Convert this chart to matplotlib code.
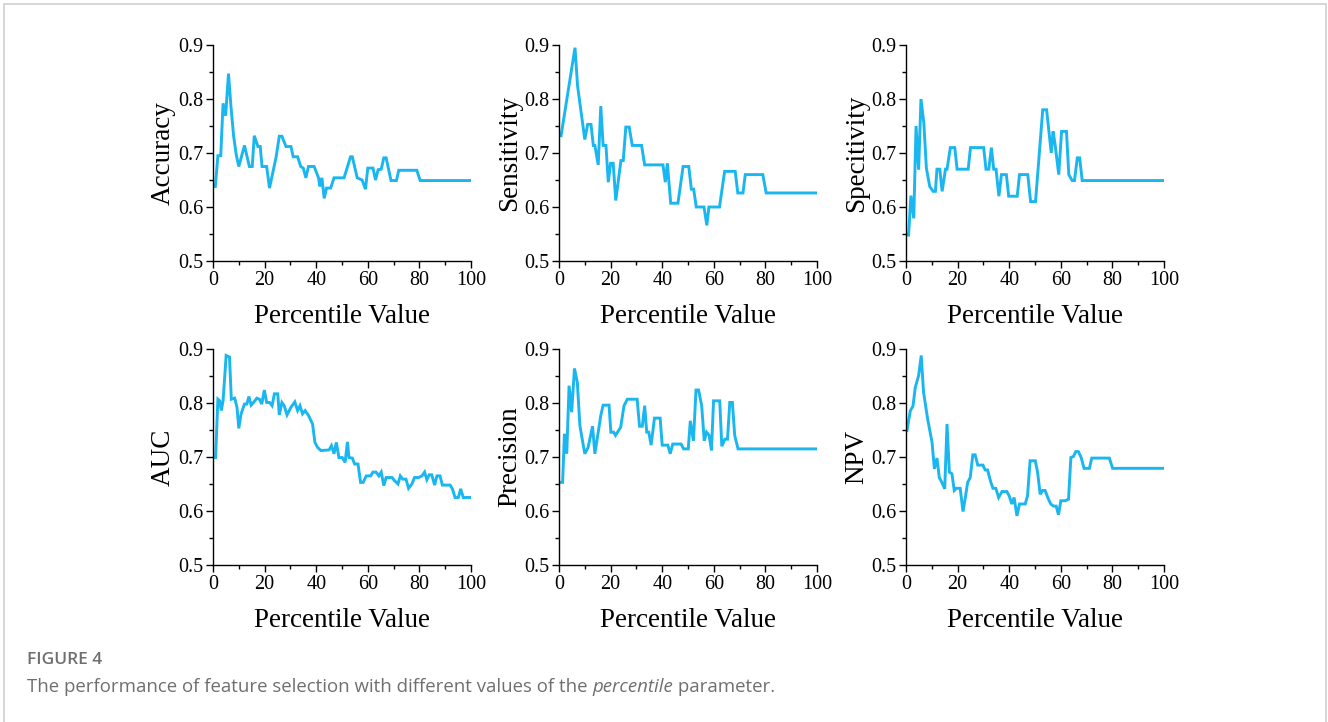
import matplotlib
matplotlib.use("Agg")
import matplotlib.pyplot as plt
from matplotlib.patches import Rectangle
from matplotlib.ticker import MultipleLocator

# values (percentile value -> metric)
acc_x = [0.9, 1.9, 3, 3.9, 4.9, 6, 7, 8, 9, 10, 12.2, 14.1, 15.2, 16, 17.4, 18.3, 19, 20.8, 21.9,
         24.4, 25.7, 26.7, 28.3, 30.2, 31.1, 32.8, 34, 35, 36, 37, 39.2, 40.9, 41.4, 42.2, 43.1,
         44, 45.6, 46.9, 50.8, 53.3, 54, 55.9, 57.8, 59.1, 60, 62, 63, 64, 65.2, 66.2, 67.1, 69,
         71.1, 72, 79, 80.3, 100]
acc_y = [0.638, 0.695, 0.695, 0.792, 0.769, 0.847, 0.784, 0.731, 0.697, 0.675, 0.714, 0.675,
         0.675, 0.732, 0.712, 0.712, 0.675, 0.675, 0.635, 0.691, 0.731, 0.731, 0.712, 0.712,
         0.693, 0.693, 0.675, 0.672, 0.654, 0.675, 0.675, 0.654, 0.638, 0.654, 0.616, 0.635,
         0.635, 0.654, 0.654, 0.693, 0.693, 0.654, 0.65, 0.633, 0.672, 0.672, 0.65, 0.669,
         0.67, 0.691, 0.691, 0.649, 0.649, 0.668, 0.668, 0.649, 0.649]

sen_x = [0.8, 6.2, 7.2, 10, 11.1, 12.4, 13.3, 13.9, 15.2, 16.2, 17.1, 18.2, 19.1, 20, 21, 22,
         24, 24.9, 25.9, 27.2, 28.4, 32, 33.2, 40.3, 41.2, 42, 43.3, 46.1, 48.1, 50.3, 51.3,
         52.2, 53.2, 56.2, 57.3, 58.1, 62.2, 64.2, 68.3, 69.3, 71.3, 72.2, 79, 80.3, 100]
sen_y = [0.732, 0.895, 0.824, 0.725, 0.753, 0.753, 0.714, 0.714, 0.678, 0.787, 0.714, 0.714,
         0.646, 0.681, 0.681, 0.612, 0.686, 0.686, 0.748, 0.748, 0.714, 0.714, 0.678, 0.678,
         0.646, 0.681, 0.607, 0.607, 0.675, 0.675, 0.633, 0.633, 0.6, 0.6, 0.566, 0.6, 0.6,
         0.666, 0.666, 0.626, 0.626, 0.66, 0.66, 0.626, 0.626]

spe_x = [0.4, 1, 1.9, 3, 3.9, 4.9, 5.8, 6.9, 7.9, 9.2, 10.5, 11.4, 12, 13.1, 14, 15.3, 15.9,
         17.2, 18.9, 19.8, 24.1, 25, 30.1, 31, 32.1, 33.1, 34, 34.9, 36, 37, 38.9, 39.8, 43.1,
         44, 47.2, 48.3, 50.2, 53, 54.5, 56.3, 57, 57.7, 59.2, 60.3, 62.2, 63.1, 64.4, 65.3,
         66.4, 67.3, 68.3, 100]
spe_y = [0.548, 0.548, 0.621, 0.579, 0.75, 0.669, 0.8, 0.756, 0.672, 0.638, 0.629, 0.629,
         0.67, 0.67, 0.629, 0.67, 0.67, 0.71, 0.71, 0.67, 0.67, 0.71, 0.71, 0.67, 0.67, 0.71,
         0.67, 0.67, 0.62, 0.66, 0.66, 0.62, 0.62, 0.66, 0.66, 0.61, 0.61, 0.78, 0.78, 0.7,
         0.74, 0.719, 0.66, 0.74, 0.74, 0.66, 0.649, 0.649, 0.691, 0.691, 0.649, 0.649]

auc_x = [1, 1.9, 2.6, 3.2, 3.9, 5.1, 6.4, 7.1, 8.4, 9.3, 10, 10.9, 12.2, 13.1, 13.9, 14.8, 15.7,
         17, 18, 18.9, 19.9, 20.8, 21.9, 22.9, 23.8, 25.1, 25.7, 26.7, 27.6, 28.7, 30.2, 31.7,
         32.8, 33.7, 34.7, 35.7, 37, 38.6, 39.5, 40.5, 41.8, 45, 45.9, 46.9, 47.8, 48.8, 50.1,
         51.2, 52.1, 52.7, 54, 54.9, 56.2, 57.2, 58.2, 59.4, 61.1, 62, 63.2, 64.3, 65.2, 66.2,
         67.1, 69.4, 70.4, 71.7, 72.6, 73.5, 74.8, 75.8, 77.1, 78.1, 79.7, 81, 82, 82.9, 83.8,
         84.8, 85.9, 86.8, 88, 88.9, 91.9, 92.8, 93.8, 95.1, 96, 97, 100]
auc_y = [0.699, 0.807, 0.804, 0.786, 0.804, 0.888, 0.885, 0.807, 0.809, 0.792, 0.753, 0.78,
         0.798, 0.798, 0.812, 0.796, 0.801, 0.809, 0.807, 0.798, 0.824, 0.801, 0.801, 0.795,
         0.817, 0.817, 0.778, 0.801, 0.795, 0.778, 0.792, 0.802, 0.786, 0.795, 0.78, 0.786,
         0.777, 0.761, 0.727, 0.718, 0.712, 0.713, 0.721, 0.706, 0.727, 0.699, 0.699, 0.69,
         0.728, 0.699, 0.698, 0.687, 0.687, 0.653, 0.653, 0.665, 0.665, 0.672, 0.672, 0.665,
         0.672, 0.647, 0.662, 0.662, 0.656, 0.65, 0.665, 0.659, 0.659, 0.642, 0.65, 0.662,
         0.662, 0.665, 0.672, 0.658, 0.667, 0.667, 0.648, 0.665, 0.665, 0.648, 0.648, 0.641,
         0.625, 0.625, 0.641, 0.625, 0.625]

pre_x = [0.8, 1.4, 2.1, 3, 3.9, 4.9, 6, 7.1, 8.1, 9, 10, 11.3, 13, 13.9, 15.2, 16.2, 17.1, 19.4,
         20.1, 21.2, 21.9, 23.9, 25.2, 26.5, 30.3, 31.2, 32.3, 33.2, 34, 34.8, 35.7, 37, 39.2,
         40, 42.2, 43.1, 44.1, 47.3, 48.3, 50.1, 50.9, 52.1, 53.1, 54.1, 55.3, 56.3, 57.2,
         58.2, 59.1, 59.9, 62.3, 63.1, 64.3, 65.3, 66.2, 67.2, 68.1, 69.4, 100]
pre_y = [0.653, 0.653, 0.743, 0.706, 0.832, 0.783, 0.864, 0.838, 0.758, 0.733, 0.706, 0.718,
         0.757, 0.706, 0.746, 0.777, 0.796, 0.796, 0.746, 0.746, 0.74, 0.755, 0.795, 0.807,
         0.807, 0.757, 0.757, 0.795, 0.746, 0.746, 0.722, 0.772, 0.772, 0.722, 0.722, 0.706,
         0.724, 0.724, 0.715, 0.715, 0.767, 0.73, 0.824, 0.824, 0.795, 0.73, 0.746, 0.74,
         0.712, 0.804, 0.804, 0.72, 0.733, 0.733, 0.801, 0.801, 0.74, 0.715, 0.715]

npv_x = [0.4, 1, 1.7, 2.7, 3.6, 4.9, 5.9, 6.8, 8.4, 10.1, 11, 12, 12.9, 13.9, 15, 15.9, 16.8,
         17.8, 18.7, 19.5, 21, 22.1, 23, 23.9, 24.9, 25.9, 26.8, 27.8, 29.8, 30.7, 31.6, 32.9,
         33.7, 34.8, 35.9, 37.2, 39.1, 40, 41, 41.9, 43, 44, 46.2, 47.1, 48.1, 50.1, 51, 52,
         52.9, 53.9, 55.2, 56.1, 57.2, 58.2, 59.1, 60, 61.7, 63, 63.9, 64.9, 65.8, 66.8, 67.9,
         69, 71.1, 72, 78.8, 80.1, 100]
npv_y = [0.749, 0.767, 0.786, 0.794, 0.829, 0.851, 0.888, 0.82, 0.77, 0.727, 0.678, 0.698,
         0.662, 0.653, 0.641, 0.761, 0.672, 0.669, 0.638, 0.642, 0.642, 0.599, 0.625, 0.653,
         0.662, 0.704, 0.704, 0.685, 0.685, 0.676, 0.676, 0.653, 0.642, 0.642, 0.625, 0.636,
         0.636, 0.628, 0.613, 0.625, 0.591, 0.613, 0.613, 0.628, 0.693, 0.693, 0.672, 0.631,
         0.638, 0.638, 0.622, 0.613, 0.609, 0.609, 0.593, 0.619, 0.619, 0.622, 0.699, 0.701,
         0.71, 0.71, 0.699, 0.679, 0.679, 0.698, 0.698, 0.679, 0.679]

panels = [("Accuracy", acc_x, acc_y), ("Sensitivity", sen_x, sen_y), ("Specitivity", spe_x, spe_y),
          ("AUC", auc_x, auc_y), ("Precision", pre_x, pre_y), ("NPV", npv_x, npv_y)]

x_ticks = [0, 20, 40, 60, 80, 100]
y_ticks = [0.5, 0.6, 0.7, 0.8, 0.9]
y_tick_labels = ["0.5", "0.6", "0.7", "0.8", "0.9"]

W, H = 1328, 722
LINE_COLOR = "#1AB6F0"
SERIF = "Liberation Serif"
CAP_FONT = "Open Sans"
CAP_COLOR = "#6f6f6f"

plt.rcParams["font.family"] = [SERIF]

fig = plt.figure(figsize=(W / 100, H / 100), dpi=100)
fig.patch.set_facecolor("white")

# light frame around the figure
fig.add_artist(Rectangle((4 / W, -0.01), (W - 6) / W, 1.01 - 4 / H, transform=fig.transFigure,
                         fill=False, edgecolor="#cfcfcf", linewidth=1.2))

lefts = [213, 559, 906]
tops = [45, 349]
ax_w, ax_h = 258, 216

for i, (name, xs, ys) in enumerate(panels):
    left = lefts[i % 3]
    top = tops[i // 3]
    ax = fig.add_axes([left / W, 1 - (top + ax_h) / H, ax_w / W, ax_h / H])
    ax.plot(xs, ys, color=LINE_COLOR, linewidth=2.1, solid_joinstyle="miter")
    ax.set_xlim(0, 100)
    ax.set_ylim(0.5, 0.9)
    ax.set_xticks(x_ticks, [str(v) for v in x_ticks], fontfamily=SERIF, fontsize=14.5)
    ax.set_yticks(y_ticks, y_tick_labels, fontfamily=SERIF, fontsize=14.5)
    ax.xaxis.set_minor_locator(MultipleLocator(10))
    ax.yaxis.set_minor_locator(MultipleLocator(0.05))
    for s in ["top", "right"]:
        ax.spines[s].set_visible(False)
    for s in ["left", "bottom"]:
        ax.spines[s].set_linewidth(1.0)
    ax.tick_params(which="major", direction="out", length=5, width=1.0, pad=2)
    ax.tick_params(which="minor", direction="out", length=3, width=1.0)
    ax.set_xlabel("Percentile Value", fontsize=19.5, labelpad=10)
    ax.set_ylabel(name, fontsize=19.5, labelpad=1.5)

# caption below the panels
cap = fig.add_axes([0, 0, 1, 1])
cap.set_axis_off()
cap.text(27 / W, 1 - 660 / H, "FIGURE 4", fontsize=12.5, color=CAP_COLOR, fontfamily=CAP_FONT,
         fontweight="semibold", va="center", ha="left")
t1 = cap.text(27 / W, 1 - 696 / H, "The performance of feature selection with different values of the ",
              fontsize=13.4, color=CAP_COLOR, fontfamily=CAP_FONT, va="bottom", ha="left")
t2 = cap.annotate("percentile", xy=(1, 0), xycoords=t1, fontsize=13.4, color=CAP_COLOR,
                  fontfamily=CAP_FONT, fontstyle="italic", va="bottom", ha="left")
cap.annotate(" parameter.", xy=(1, 0), xycoords=t2, fontsize=13.4, color=CAP_COLOR,
             fontfamily=CAP_FONT, va="bottom", ha="left")

fig.savefig("out.png", dpi=100)
